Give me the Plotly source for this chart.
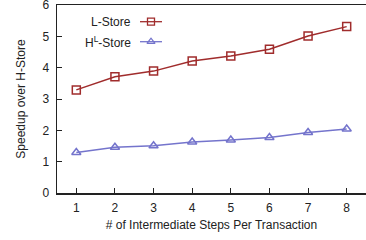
import plotly.graph_objects as go

steps = [1, 2, 3, 4, 5, 6, 7, 8]
lstore = [3.29, 3.71, 3.89, 4.21, 4.37, 4.59, 5.01, 5.31]
hlstore = [1.29, 1.46, 1.51, 1.63, 1.69, 1.77, 1.93, 2.04]
names = ["L-Store", "H<sup>L</sup>-Store"]
colors = ["#A02C2C", "#7474CC"]
symbols = ["square-open", "triangle-up-open"]

FONT = "Liberation Sans, Arial, sans-serif"
fig = go.Figure()
for ys, c, s in zip([lstore, hlstore], colors, symbols):
    fig.add_trace(go.Scatter(x=steps, y=ys, mode="lines+markers",
                             line=dict(color=c, width=1.5),
                             marker=dict(symbol=s, size=8, color=c, line=dict(width=1.5, color=c)),
                             showlegend=False, cliponaxis=False))

# manual legend (text left, sample right), positioned in pixel-like overlay axis
leg_y = [21.7, 41.7]
for nm, c, s, yy in zip(names, colors, symbols, leg_y):
    fig.add_trace(go.Scatter(x=[140, 162], y=[yy, yy], mode="lines", xaxis="x2", yaxis="y2",
                             line=dict(color=c, width=1.3), showlegend=False, hoverinfo="skip"))
    fig.add_trace(go.Scatter(x=[151], y=[yy], mode="markers", xaxis="x2", yaxis="y2",
                             marker=dict(symbol=s, size=7, color=c, line=dict(width=1.3, color=c)),
                             showlegend=False, hoverinfo="skip"))
    fig.add_annotation(x=133, y=yy, xref="x2", yref="y2", text=nm, showarrow=False,
                       xanchor="right", yanchor="middle", font=dict(size=12, color="#222", family=FONT))

fig.update_layout(
    width=366, height=240,
    margin=dict(l=57, r=0, t=5, b=47),
    paper_bgcolor="white", plot_bgcolor="white",
    font=dict(family=FONT, size=12, color="#222"),
    xaxis=dict(range=[0.5, 8.5], tickvals=steps, ticks="inside", ticklen=5, tickwidth=1,
               tickcolor="#222", showline=True, linecolor="#222", linewidth=1.5, mirror=True,
               showgrid=False, zeroline=False, automargin=False, tickfont=dict(size=12),
               ticklabeloverflow="allow", ticklabelstandoff=3,
               title=dict(text="# of Intermediate Steps Per Transaction", font=dict(size=12), standoff=6)),
    yaxis=dict(range=[0, 6], tickvals=[0, 1, 2, 3, 4, 5, 6], ticks="inside", ticklen=5, tickwidth=1,
               tickcolor="#222", showline=True, linecolor="#222", linewidth=1.5,
               showgrid=False, zeroline=False, automargin=False, tickfont=dict(size=12),
               ticklabeloverflow="allow", ticklabelstandoff=4,
               title=dict(text="Speedup over H-Store", font=dict(size=12), standoff=14)),
    xaxis2=dict(range=[57, 366], overlaying="x", visible=False, fixedrange=True, automargin=False),
    yaxis2=dict(range=[193, 5], overlaying="y", visible=False, fixedrange=True, automargin=False),
)

fig.write_html("out.html", config={"displayModeBar": False, "staticPlot": True},
               post_script="document.body.style.margin='0';document.body.style.overflow='hidden';")
